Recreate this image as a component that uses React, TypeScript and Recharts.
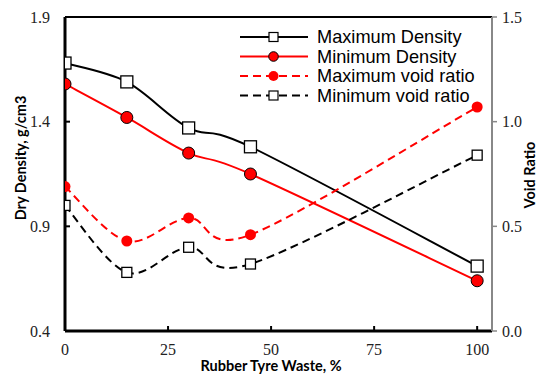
import { LineChart, Line, XAxis, YAxis, Legend, ReferenceLine } from "recharts";

// Rubber tyre waste content (%)
const wasteContent = [0, 15, 30, 45, 100];
// Dry density, g/cm3 (left axis)
const maxDensity = [1.68, 1.59, 1.37, 1.28, 0.71];
const minDensity = [1.58, 1.42, 1.25, 1.15, 0.64];
// Void ratio (right axis)
const maxVoidRatio = [0.69, 0.43, 0.54, 0.46, 1.07];
const minVoidRatio = [0.6, 0.28, 0.4, 0.32, 0.84];

const xTicks = [0, 25, 50, 75, 100];
const densityTicks = [0.4, 0.9, 1.4, 1.9];
const voidTicks = [0, 0.5, 1, 1.5];

const data = wasteContent.map((w, i) => ({
  waste: w,
  maxDensity: maxDensity[i],
  minDensity: minDensity[i],
  maxVoid: maxVoidRatio[i],
  minVoid: minVoidRatio[i],
}));

// spreadsheet-style smoothed line (Catmull-Rom through every point)
function smoothCurve(context: any) {
  let pts: number[][] = [];
  return {
    areaStart() {},
    areaEnd() {},
    lineStart() {
      pts = [];
    },
    lineEnd() {
      const n = pts.length;
      if (!n) return;
      context.moveTo(pts[0][0], pts[0][1]);
      for (let i = 0; i < n - 1; i++) {
        const p0 = pts[Math.max(i - 1, 0)];
        const p1 = pts[i];
        const p2 = pts[i + 1];
        const p3 = pts[Math.min(i + 2, n - 1)];
        context.bezierCurveTo(
          p1[0] + (p2[0] - p0[0]) / 6,
          p1[1] + (p2[1] - p0[1]) / 6,
          p2[0] - (p3[0] - p1[0]) / 6,
          p2[1] - (p3[1] - p1[1]) / 6,
          p2[0],
          p2[1]
        );
      }
    },
    point(x: number, y: number) {
      pts.push([+x, +y]);
    },
  };
}

const squareDot = (size: number) => (props: any) => {
  const { cx, cy, index } = props;
  return (
    <rect
      key={`sq-${index}`}
      x={cx - size / 2}
      y={cy - size / 2}
      width={size}
      height={size}
      fill="#fff"
      stroke="#000"
      strokeWidth={1.3}
    />
  );
};

const serif = "'Times New Roman', 'Liberation Serif', 'DejaVu Serif', serif";
const titleFont = {
  fontFamily: "Lato, sans-serif",
  fontWeight: 700,
  fontSize: 14.5,
  fill: "#000",
};

// tick label renderer; anchor decides which side of the axis the text sits
const serifTick = (anchor: "start" | "middle" | "end", decimals: number) => (props: any) => {
  const { x, y, payload, index } = props;
  const dy = anchor === "middle" ? 12 : 5.5;
  return (
    <g key={`t-${index}`}>
      <text
        x={x}
        y={y + dy}
        textAnchor={anchor}
        fontFamily={serif}
        fontSize={16}
        fill="#222"
        style={{ fontFamily: serif }}
      >
        {Number(payload.value).toFixed(decimals)}
      </text>
    </g>
  );
};

const legendRows = [
  { name: "Maximum Density", color: "#000", dash: undefined, marker: "square" },
  { name: "Minimum Density", color: "#f00", dash: undefined, marker: "circle" },
  { name: "Maximum void ratio", color: "#f00", dash: "8 5", marker: "dot" },
  { name: "Minimum void ratio", color: "#000", dash: "8 5", marker: "square" },
];

function LegendBox() {
  return (
    <svg width={290} height={80}>
      {legendRows.map((r, i) => {
        const y = 10 + i * 19.5;
        return (
          <g key={r.name}>
            <line
              x1={3}
              x2={71}
              y1={y}
              y2={y}
              stroke={r.color}
              strokeWidth={2}
              strokeDasharray={r.dash}
            />
            {r.marker === "square" && (
              <rect x={32} y={y - 4.5} width={9} height={9} fill="#fff" stroke="#000" strokeWidth={1.2} />
            )}
            {r.marker === "circle" && (
              <circle cx={36.5} cy={y} r={4.8} fill="#f00" stroke="#000" strokeWidth={1} />
            )}
            {r.marker === "dot" && <circle cx={36.5} cy={y} r={5} fill="#f00" />}
            <text
              x={80}
              y={y}
              dominantBaseline="central"
              style={{ fontFamily: "'Liberation Sans', Arial, sans-serif", fontSize: 18.2, fill: "#000" }}
            >
              {r.name}
            </text>
          </g>
        );
      })}
    </svg>
  );
}

export default function App() {
  return (
    <div style={{ position: "absolute", left: 0, top: 0, background: "#fff" }}>
      <LineChart
        width={537}
        height={376}
        data={data}
        margin={{ top: 17, right: 0, bottom: 0, left: 0 }}
        style={{ fontFamily: serif }}
      >
        <XAxis
          dataKey="waste"
          type="number"
          domain={[0, 103.6]}
          ticks={xTicks}
          allowDataOverflow
          height={45}
          axisLine={{ stroke: "#000", strokeWidth: 3 }}
          tickLine={{ stroke: "#000", strokeWidth: 2 }}
          tickSize={-5}
          tickMargin={17}
          tick={serifTick("middle", 0)}
          label={{
            content: () => (
              <text x={271} y={371} textAnchor="middle" style={titleFont}>
                Rubber Tyre Waste, %
              </text>
            ),
          }}
        />
        <YAxis
          yAxisId="left"
          domain={[0.4, 1.9]}
          ticks={densityTicks}
          width={65}
          axisLine={{ stroke: "#000", strokeWidth: 3 }}
          tickLine={{ stroke: "#000", strokeWidth: 2 }}
          tickSize={-5}
          tickMargin={20}
          tick={serifTick("end", 1)}
          label={{
            content: () => (
              <text
                transform="translate(26,158) rotate(-90)"
                textAnchor="middle"
                style={titleFont}
              >
                Dry Density, g/cm3
              </text>
            ),
          }}
        />
        <YAxis
          yAxisId="right"
          orientation="right"
          domain={[0, 1.5]}
          ticks={voidTicks}
          width={45}
          axisLine={{ stroke: "#888", strokeWidth: 2 }}
          tickLine={{ stroke: "#888", strokeWidth: 1.5 }}
          tickSize={5}
          tickMargin={5}
          tick={serifTick("start", 1)}
          label={{
            content: () => (
              <text
                transform="translate(535,175) rotate(-90)"
                textAnchor="middle"
                style={titleFont}
              >
                Void Ratio
              </text>
            ),
          }}
        />
        <ReferenceLine yAxisId="left" y={1.9} stroke="#000" strokeWidth={2} />
        <Legend
          layout="horizontal"
          verticalAlign="middle"
          align="center"
          wrapperStyle={{ left: 237, top: 27, width: 290, height: 80 }}
          content={() => <LegendBox />}
        />
        <Line
          yAxisId="left"
          dataKey="maxDensity"
          type={smoothCurve as any}
          stroke="#000"
          strokeWidth={2}
          dot={squareDot(12)}
          isAnimationActive={false}
        />
        <Line
          yAxisId="left"
          dataKey="minDensity"
          type={smoothCurve as any}
          stroke="#f00"
          strokeWidth={2}
          dot={{ r: 6, fill: "#f00", stroke: "#000", strokeWidth: 1 }}
          isAnimationActive={false}
        />
        <Line
          yAxisId="right"
          dataKey="maxVoid"
          type={smoothCurve as any}
          stroke="#f00"
          strokeWidth={2}
          strokeDasharray="8 5"
          dot={{ r: 5.5, fill: "#f00", stroke: "#f00", strokeWidth: 0, strokeDasharray: "" }}
          isAnimationActive={false}
        />
        <Line
          yAxisId="right"
          dataKey="minVoid"
          type={smoothCurve as any}
          stroke="#000"
          strokeWidth={2}
          strokeDasharray="8 5"
          dot={squareDot(10)}
          isAnimationActive={false}
        />
      </LineChart>
    </div>
  );
}
